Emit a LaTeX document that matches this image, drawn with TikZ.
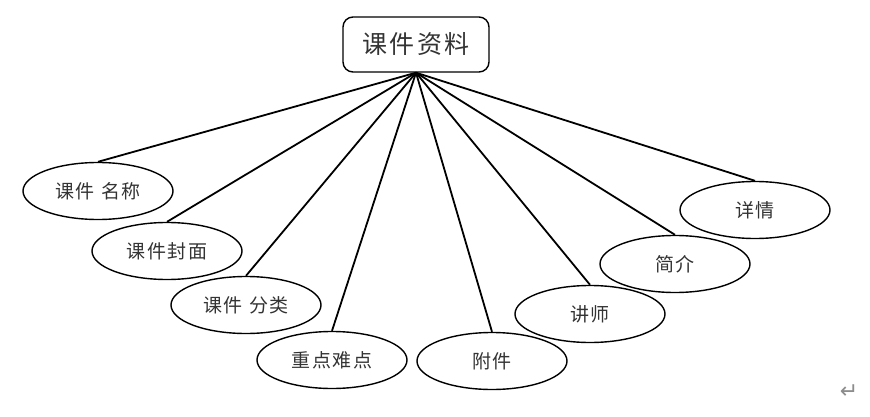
\documentclass[tikz,border=0pt]{standalone}
\usepackage{fontspec}
\usepackage{tikz}
\usepackage{color}
\definecolor{text-grey}{rgb} {0.2,0.2,0.2}
\definecolor{mark-grey}{rgb} {0.55,0.55,0.55}
\newfontfamily\cjk{Noto Sans CJK SC}[LetterSpace=10]
\newfontfamily\symfont{DejaVu Sans}
\usetikzlibrary{shapes.geometric,positioning}

\begin{document}
\begin{tikzpicture}[x=1pt,y=-1pt]
    \tikzstyle{every node}=[text=text-grey,font=\cjk]
    \tikzstyle{topbox}=[draw=black,line width=1.4pt,rounded corners=10pt,minimum width=146pt,minimum height=55pt,font=\cjk\fontsize{25}{25}\selectfont]
    \tikzstyle{attr}=[draw=black,line width=1.4pt,ellipse,minimum width=150pt,minimum height=57pt,inner sep=0pt,font=\cjk\fontsize{19}{19}\selectfont]
    \tikzstyle{link}=[line width=1.8pt]
    \useasboundingbox (0,0) rectangle (870,417);

    \node[topbox] (course) at (416,44.5) {课件资料};

    \node[attr] (name)   at (98,191)  {课件 名称};
    \node[attr] (cover)  at (167,251) {课件封面};
    \node[attr] (kind)   at (246,305) {课件 分类};
    \node[attr] (key)    at (332,360) {重点难点};
    \node[attr] (attach) at (492,361) {附件};
    \node[attr] (teach)  at (590,314) {讲师};
    \node[attr] (intro)  at (675,264) {简介};
    \node[attr] (detail) at (755,210) {详情};

    \foreach \n in {name,cover,kind,key,attach,teach,intro,detail}
        \draw[link] (course.south) -- (\n.north);

    \node[text=mark-grey,font=\symfont\fontsize{22}{22}\selectfont] (mark) at (849,392) {↵};
\end{tikzpicture}
\end{document}
